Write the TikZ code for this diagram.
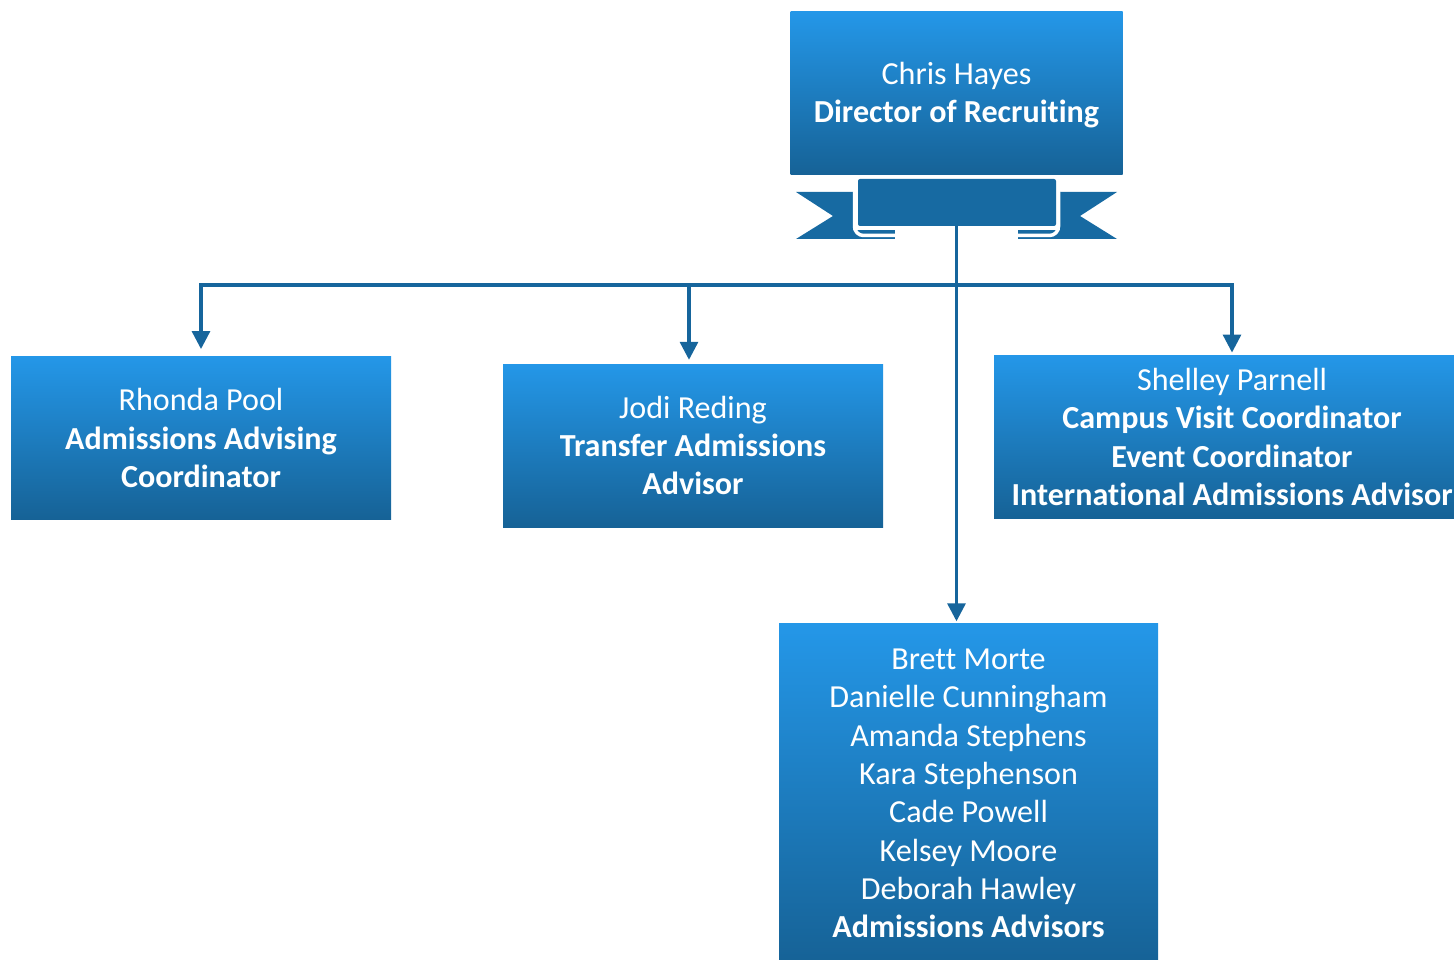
\documentclass[tikz,border=0pt]{standalone}
\usepackage{fontspec}
\setmainfont[Ligatures=NoCommon]{Carlito}
\usepackage{xcolor}
\usetikzlibrary{arrows.meta, positioning}
\definecolor{boxtop}{HTML}{2497E8}
\definecolor{boxbottom}{HTML}{166296}
\definecolor{ribbon}{HTML}{176AA2}
\definecolor{linkblue}{HTML}{16659C}
\tikzset{%
	every staff/.style={
		rectangle,
		top color=boxtop,
		bottom color=boxbottom,
		text=white,
		align=center,
		inner sep=0pt,
		font=\fontsize{32.1}{38.3}\selectfont
	},
	link/.style={
		draw=linkblue,
		line width=3.2pt,
		-{Triangle[length=18pt,width=18pt]}
	},
}

\begin{document}
\begin{tikzpicture}[x=1pt,y=-1pt]
	\path[use as bounding box,clip] (0,0) rectangle (1454,960);
	% ribbon tails behind the banner
	\fill[ribbon] (796,192) -- (853,192) -- (853,239) -- (796,239) -- (833,216) -- cycle;
	\fill[ribbon] (1117,192) -- (1060,192) -- (1060,239) -- (1117,239) -- (1080,216) -- cycle;
	\fill[ribbon] (853,230) rectangle (895,239);
	\fill[ribbon] (1018,230) rectangle (1060,239);
	\draw[white,line width=3.5pt,rounded corners=9pt] (854.5,192) -- (854.5,235.5) -- (895,235.5);
	\draw[white,line width=3.5pt,rounded corners=9pt] (1058.5,192) -- (1058.5,235.5) -- (1018,235.5);
	\fill[white] (857,226) rectangle (896,230);
	\fill[white] (1017,226) rectangle (1056,230);
	% boxes
	\node[every staff, minimum width=332pt, minimum height=163pt] (director) at (956.5,93.5) {\rule{0pt}{26pt}Chris Hayes\\\textbf{Director of Recruiting}};
	\node[fill=ribbon, rounded corners=2pt, minimum width=198pt, minimum height=47pt, inner sep=0pt] (banner) at (957,202.5) {};
	\node[every staff, minimum width=380pt, minimum height=163.5pt] (rhonda) at (201,438) {Rhonda Pool\\\textbf{Admissions Advising}\\\textbf{Coordinator}};
	\node[every staff, minimum width=380pt, minimum height=163pt] (jodi) at (693,445.5) {Jodi Reding\\\textbf{Transfer Admissions}\\\textbf{Advisor}};
	\node[every staff, minimum width=476pt, minimum height=163.5pt] (shelley) at (1232,437) {Shelley Parnell\\\textbf{Campus Visit Coordinator}\\\textbf{Event Coordinator}\\\textbf{International Admissions Advisor}};
	\node[every staff, minimum width=379pt, minimum height=340pt] (brett) at (968.5,793.5) {Brett Morte\\Danielle Cunningham\\Amanda Stephens\\Kara Stephenson\\Cade Powell\\Kelsey Moore\\Deborah Hawley\\\textbf{Admissions Advisors}};
	% connectors
	\coordinate (bus) at (956.5,285);
	\draw[link, shorten >=7pt] (bus) -| (rhonda.north);
	\draw[link, shorten >=4pt] (bus) -| ([xshift=-4pt]jodi.north);
	\draw[link, shorten >=2.5pt] (bus) -| (shelley.north);
	\draw[link, shorten >=2pt] (banner.south -| bus) -- (bus |- brett.north);
\end{tikzpicture}
\end{document}
